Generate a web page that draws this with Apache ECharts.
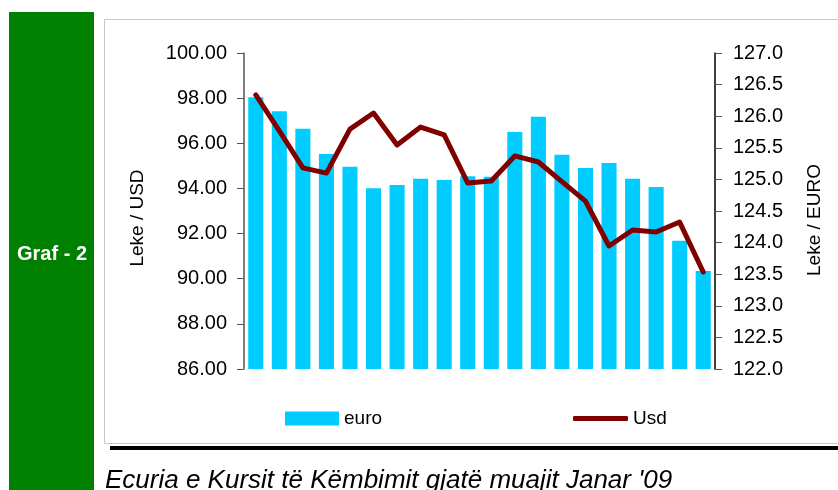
<!DOCTYPE html>
<html>
<head>
<meta charset="utf-8">
<title>Graf 2</title>
<script src="https://cdn.jsdelivr.net/npm/echarts@6/dist/echarts.min.js"></script>
<style>
  html, body { margin: 0; padding: 0; background: #fff; }
  #main { width: 838px; height: 490px; }
</style>
</head>
<body>
<div id="main"></div>
<script type="text/javascript">
// dite pune te janarit 2009
var days = ['05.01', '06.01', '07.01', '08.01', '09.01', '12.01', '13.01', '14.01', '15.01', '16.01',
            '19.01', '20.01', '21.01', '22.01', '23.01', '26.01', '27.01', '28.01', '29.01', '30.01'];
// Leke / EURO (shtyllat, boshti djathtas)
var euro = [126.30, 126.08, 125.80, 125.40, 125.20, 124.86, 124.91, 125.01, 124.99, 125.05,
            125.04, 125.75, 125.99, 125.39, 125.18, 125.26, 125.01, 124.88, 124.03, 123.55];
// Leke / USD (vija, boshti majtas)
var usd = [98.14, 96.55, 94.91, 94.68, 96.63, 97.34, 95.92, 96.72, 96.37, 94.24,
           94.33, 95.44, 95.17, 94.30, 93.44, 91.45, 92.16, 92.07, 92.51, 90.30];

var font = '"Liberation Sans", Arial, sans-serif';
var myChart = echarts.init(document.getElementById('main'));

var option = {
    backgroundColor: '#fff',
    animation: false,
    grid: { left: 244, right: 123, top: 53, bottom: 121 },
    legend: [
        {
            left: 280, top: 404, itemWidth: 54, itemHeight: 14, itemGap: 5,
            icon: 'rect',
            data: ['euro'],
            textStyle: { fontFamily: font, fontSize: 19, color: '#000' }
        },
        {
            left: 568, top: 404, itemWidth: 55, itemHeight: 5, itemGap: 3,
            icon: 'roundRect',
            data: ['Usd'],
            textStyle: { fontFamily: font, fontSize: 19, color: '#000' }
        }
    ],
    xAxis: {
        type: 'category',
        data: days,
        axisLine: { show: false },
        axisTick: { show: false },
        axisLabel: { show: false }
    },
    yAxis: [
        {
            type: 'value', position: 'left',
            min: 86, max: 100, interval: 2,
            name: 'Leke / USD', nameLocation: 'middle', nameGap: 97, nameRotate: 90,
            nameTextStyle: { fontFamily: font, fontSize: 19, color: '#000', padding: [0, 14, 0, 0] },
            axisLine: { show: true, lineStyle: { color: '#555', width: 1.5 } },
            axisTick: { show: true, length: 7, lineStyle: { color: '#555' } },
            axisLabel: { margin: 17, fontFamily: font, fontSize: 20, color: '#000',
                formatter: function (v) { return v.toFixed(2); } },
            splitLine: { show: false }
        },
        {
            type: 'value', position: 'right',
            min: 122, max: 127, interval: 0.5,
            name: 'Leke / EURO', nameLocation: 'middle', nameGap: 90, nameRotate: 90,
            nameTextStyle: { fontFamily: font, fontSize: 19, color: '#000', padding: [0, 18, 0, 0] },
            axisLine: { show: true, lineStyle: { color: '#000', width: 1.5 } },
            axisTick: { show: true, length: 7, lineStyle: { color: '#555' } },
            axisLabel: { margin: 18, fontFamily: font, fontSize: 20, color: '#000',
                formatter: function (v) { return v.toFixed(1); } },
            splitLine: { show: false }
        }
    ],
    series: [
        {
            name: 'euro', type: 'bar', yAxisIndex: 1,
            data: euro,
            barCategoryGap: '36%',
            itemStyle: { color: '#00CCFF' }
        },
        {
            name: 'Usd', type: 'line', yAxisIndex: 0,
            data: usd,
            symbol: 'none',
            lineStyle: { color: '#800000', width: 5, cap: 'round', join: 'round' },
            itemStyle: { color: '#800000' }
        }
    ],
    graphic: [
        { type: 'rect', z: -10, shape: { x: 9, y: 12, width: 85, height: 480 },
          style: { fill: '#008000' } },
        { type: 'text', x: 52, y: 254,
          style: { text: 'Graf - 2', fill: '#fff', font: 'bold 20px ' + font,
                   textAlign: 'center', textVerticalAlign: 'middle' } },
        { type: 'rect', z: -10, shape: { x: 104.5, y: 19.5, width: 740, height: 424 },
          style: { fill: '#fff', stroke: '#c8c8c8', lineWidth: 1 } },
        { type: 'rect', z: -10, shape: { x: 110, y: 446, width: 730, height: 4 },
          style: { fill: '#000' } },
        { type: 'text', x: 105, y: 494,
          style: { text: "Ecuria e Kursit të Këmbimit gjatë muajit Janar '09", fill: '#000',
                   font: 'italic 26px ' + font, textAlign: 'left', textVerticalAlign: 'bottom' } }
    ]
};
myChart.setOption(option);
</script>
</body>
</html>
